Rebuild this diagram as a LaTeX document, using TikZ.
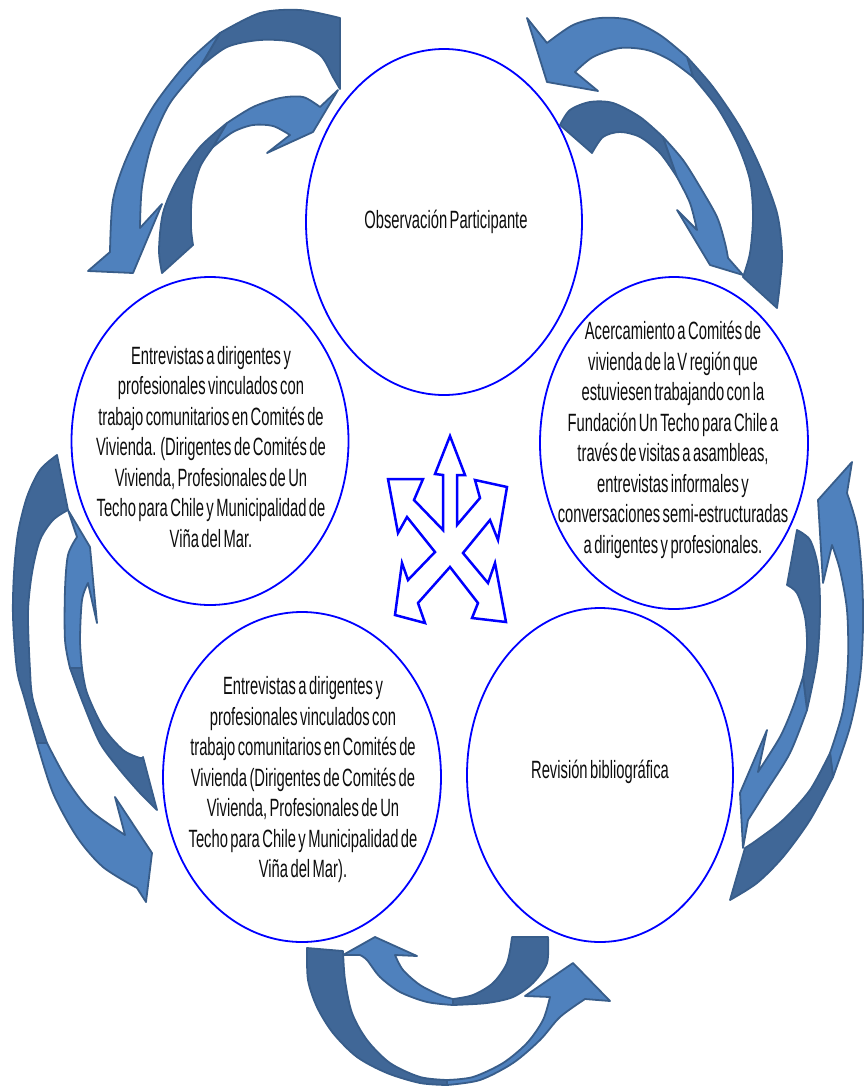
\documentclass[tikz,border=0pt]{standalone}
\usepackage{fontspec}
\setmainfont[FakeStretch=0.59,WordSpace=0.6]{Liberation Sans}
\usetikzlibrary{shapes.geometric}
\definecolor{arrowlight}{RGB}{79,129,189}
\definecolor{arrowdark}{RGB}{64,103,151}
\definecolor{arrowline}{RGB}{56,93,138}
\begin{document}
\begin{tikzpicture}[x=1pt, y=-1pt,
ellipse_style/.style={ellipse,draw=blue,line width=1.8pt,inner sep=0pt},
text_style/.style={align=center,text=black!95,inner sep=0pt,font=\fontsize{25}{30.5}\selectfont},
arrow_light/.style={fill=arrowlight,draw=arrowline,line width=1.8pt,line join=round},
arrow_dark/.style={fill=arrowdark,draw=arrowline,line width=1.8pt,line join=round},
cross_style/.style={draw=blue,line width=2.5pt,line join=miter,fill=white}]
\useasboundingbox (0,0) rectangle (864,1088);

% top left pair
\filldraw[arrow_dark] plot[smooth] coordinates {(340,18) (300,10) (260,13) (220,33)} -- plot[smooth] coordinates {(200,67) (227,47) (260,40) (293,42) (320,55) (333,77) (340,89)} -- cycle;
\filldraw[arrow_light] plot[smooth] coordinates {(220,33) (187,63) (153,107) (127,157) (113,200) (110,252)} -- (88,271) -- (133,273) -- (162,204) -- plot[smooth] coordinates {(140,228) (142,187) (152,143) (170,103) (200,67)} -- cycle;
\filldraw[arrow_dark] plot[smooth] coordinates {(162,273) (159,250) (163,213) (177,180) (200,147) (227,123)} -- plot[smooth] coordinates {(213,147) (200,167) (192,197) (191,227) (193,245)} -- cycle;
\filldraw[arrow_light] plot[smooth] coordinates {(227,123) (253,107) (280,98) (303,97) (320,107)} -- (338,90) -- (313,132) -- (267,153) -- plot[smooth] coordinates {(290,135) (273,126) (253,125) (233,132) (213,147)} -- cycle;

% top right pair
\filldraw[arrow_dark] plot[smooth] coordinates {(687,57) (713,87) (740,127) (760,167) (777,213) (782,253) (780,283) (777,308)} -- plot[smooth] coordinates {(743,277) (750,253) (753,217) (750,180) (737,143) (717,107) (693,77)} -- cycle;
\filldraw[arrow_light] plot[smooth] coordinates {(547,43) (573,25) (600,18) (630,20) (660,35) (687,57)} -- plot[smooth] coordinates {(693,77) (670,60) (647,50) (620,48) (593,57) (575,72)} -- (598,91) -- (547,82) -- (527,18) -- cycle;
\filldraw[arrow_dark] plot[smooth] coordinates {(560,125) (570,110) (590,102) (613,103) (640,117) (663,137)} -- plot[smooth] coordinates {(677,177) (660,153) (640,137) (620,132) (603,137) (592,153)} -- cycle;
\filldraw[arrow_light] plot[smooth] coordinates {(663,137) (683,160) (700,187) (717,217) (725,243) (728,258)} -- (743,275) -- (710,265) -- (677,210) -- plot[smooth] coordinates {(697,230) (690,203) (677,177)} -- cycle;

% left pair
\filldraw[arrow_dark] plot[smooth] coordinates {(57,455) (40,470) (27,497) (18,533) (14,573) (13,617) (17,670) (25,700) (37,743)} -- plot[smooth] coordinates {(47,743) (33,700) (30,670) (28,613) (32,573) (40,540) (53,520) (68,510)} -- cycle;
\filldraw[arrow_light] plot[smooth] coordinates {(37,743) (53,793) (77,837) (103,867) (137,888)} -- (146,902) -- (152,853) -- (115,797) -- plot[smooth] coordinates {(125,835) (90,810) (67,780) (47,743)} -- cycle;
\filldraw[arrow_light] (68,510) -- (90,547) -- (97,623) -- plot[smooth] coordinates {(88,583) (82,600) (80,640) (82,668)} -- plot[smooth] coordinates {(70,668) (65,640) (65,590) (68,555) (77,537)} -- cycle;
\filldraw[arrow_dark] plot[smooth] coordinates {(82,668) (87,693) (103,727) (123,750) (140,758) (143,757)} -- plot[smooth] coordinates {(157,810) (140,793) (120,770) (100,743) (83,703) (70,668)} -- cycle;

% right pair
\filldraw[arrow_light] (852,462) -- (818,500) -- (823,583) -- plot[smooth] coordinates {(832,545) (840,570) (847,610) (848,660) (843,710) (830,753)} -- plot[smooth] coordinates {(833,777) (850,727) (860,677) (863,627) (862,577) (857,527) (847,493)} -- cycle;
\filldraw[arrow_dark] plot[smooth] coordinates {(830,753) (810,790) (783,820) (757,840) (745,848)} -- plot[smooth] coordinates {(730,900) (757,883) (783,857) (810,820) (833,777)} -- cycle;
\filldraw[arrow_dark] plot[smooth] coordinates {(797,530) (810,540) (818,567) (820,610) (817,660) (807,710)} -- plot[smooth] coordinates {(803,677) (807,647) (805,617) (797,593) (787,585)} -- cycle;
\filldraw[arrow_light] plot[smooth] coordinates {(807,710) (790,753) (767,790) (748,820)} -- (743,848) -- (740,793) -- (767,730) -- plot[smooth] coordinates {(758,772) (780,737) (793,707) (803,677)} -- cycle;

% bottom pair
\filldraw[arrow_dark] plot[smooth] coordinates {(512,937) (507,963) (493,983) (473,995) (453,999)} -- plot[smooth] coordinates {(453,1005) (487,1003) (513,997) (533,983) (547,963) (548,937)} -- cycle;
\filldraw[arrow_light] plot[smooth] coordinates {(453,1005) (427,1002) (400,992) (380,977) (367,960) (360,955)} -- (343,955) -- (375,937) -- (417,956) -- plot[smooth] coordinates {(395,955) (403,970) (420,985) (440,995) (453,999)} -- cycle;
\filldraw[arrow_dark] plot[smooth] coordinates {(307,948) (308,980) (317,1007) (333,1033) (357,1057) (387,1073) (420,1083) (447,1085)} -- plot[smooth] coordinates {(447,1080) (420,1077) (390,1063) (367,1040) (352,1013) (345,980) (343,951)} -- cycle;
\filldraw[arrow_light] plot[smooth] coordinates {(447,1085) (480,1080) (513,1063) (540,1040) (560,1017) (585,999)} -- (610,1001) -- (573,963) -- (525,996) -- plot[smooth] coordinates {(550,997) (543,1020) (527,1043) (503,1063) (473,1077) (447,1080)} -- cycle;

% centre
\draw[cross_style] (450,436) -- (465,475) -- (457,475) -- (457,525) -- (480,498) -- (475,480) -- (507,487) -- (498,540) -- (490,520) -- (463,553) -- (488,583) -- (495,563) -- (506,622) -- (472,618) -- (478,603) -- (450,567) -- (418,603) -- (425,623) -- (395,615) -- (402,563) -- (408,580) -- (435,552) -- (407,517) -- (398,533) -- (388,479) -- (423,479) -- (414,500) -- (443,530) -- (443,475) -- (435,474) -- cycle;

\node[ellipse_style, minimum width=276pt, minimum height=346pt] (c1) at (444,222) {};
\node[ellipse_style, minimum width=268pt, minimum height=332pt] (c2) at (674,443) {};
\node[ellipse_style, minimum width=277pt, minimum height=328pt] (c3) at (210,441) {};
\node[ellipse_style, minimum width=278pt, minimum height=330pt] (c4) at (302,777) {};
\node[ellipse_style, minimum width=266pt, minimum height=334pt] (c5) at (600,775) {};

\node[text_style] (t1) at (446,222) {Observación Participante};
\node[text_style] (t2) at (673,440) {Acercamiento a Comités de\\vivienda de la V región que\\estuviesen trabajando con la\\Fundación Un Techo para Chile a\\través de visitas a asambleas,\\entrevistas informales y\\conversaciones semi-estructuradas\\a dirigentes y profesionales.};
\node[text_style] (t3) at (211,447) {Entrevistas a dirigentes y\\profesionales vinculados con\\trabajo comunitarios en Comités de\\Vivienda. (Dirigentes de Comités de\\Vivienda, Profesionales de Un\\Techo para Chile y Municipalidad de\\Viña del Mar.};
\node[text_style] (t4) at (303,780) {Entrevistas a dirigentes y\\profesionales vinculados con\\trabajo comunitarios en Comités de\\Vivienda (Dirigentes de Comités de\\Vivienda, Profesionales de Un\\Techo para Chile y Municipalidad de\\Viña del Mar).};
\node[text_style] (t5) at (600,772) {Revisión bibliográfica};
\end{tikzpicture}
\end{document}
